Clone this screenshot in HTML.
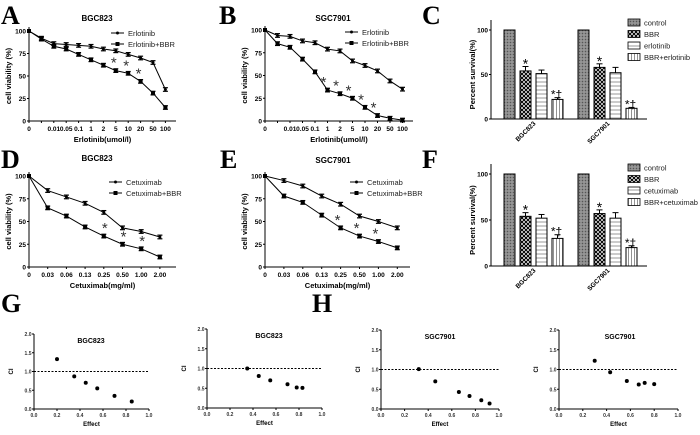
<!DOCTYPE html>
<html><head><meta charset="utf-8"><style>
html,body{margin:0;padding:0;background:#fff;}
svg{display:block;font-family:"Liberation Sans",Arial,sans-serif;}
</style></head><body>
<svg id="fig" width="700" height="435" viewBox="0 0 700 435">
<defs>
<pattern id="pCtrl" width="3" height="3" patternUnits="userSpaceOnUse"><rect width="3" height="3" fill="#888"/><rect width="1" height="1" fill="#555"/><rect x="1.5" y="1.5" width="1" height="1" fill="#bbb"/></pattern>
<pattern id="pBBR" width="4" height="4" patternUnits="userSpaceOnUse"><rect width="4" height="4" fill="#fff"/><path d="M0,0L4,4M4,0L0,4" stroke="#000" stroke-width="1.1"/></pattern>
<pattern id="pDrug" width="4" height="4" patternUnits="userSpaceOnUse"><rect width="4" height="4" fill="#fff"/><path d="M0,2H4" stroke="#999" stroke-width="1"/></pattern>
<pattern id="pComb" width="3" height="4" patternUnits="userSpaceOnUse"><rect width="3" height="4" fill="#fff"/><path d="M1.5,0V4" stroke="#777" stroke-width="0.8"/></pattern>
</defs>
<g font-family="Liberation Serif,serif" font-weight="bold" font-size="26" fill="#000">
<text x="1" y="24">A</text>
<text x="219" y="24">B</text>
<text x="422" y="24">C</text>
<text x="1" y="168">D</text>
<text x="220" y="168">E</text>
<text x="422" y="168">F</text>
<text x="1" y="312">G</text>
<text x="312" y="312">H</text>
</g>
</svg>
<script>
// ---- Line chart data ----
const catsErl = ["0","","0.01","0.05","0.1","1","2","5","10","20","50","100"];
const catsCet = ["0","0.03","0.06","0.13","0.25","0.50","1.00","2.00"];
const aErl = [100,92,86,85,84,83,80,78,74,70,65,35];
const aErlBBR = [100,91,83,80,74,68,62,56,53,44,31,15];
const bErl = [100,94,93,88,86,79,77,66,61,55,44,35];
const bErlBBR = [100,85,81,68,54,34,30,25,15,6,3,1];
const dCet = [100,84,77,70,60,43,39,33];
const dCetBBR = [100,65,56,44,34,25,20,11];
const eCet = [100,95,89,78,69,56,50,43];
const eCetBBR = [100,78,71,57,43,34,28,21];
const yTicksLine = [0,25,50,75,100];
// ---- Bar data ----
const barGroups = ["BGC823","SGC7901"];
const cVals = [[100,54,51,22],[100,58,52,12]];
const cErr = [[0,5,4,2],[0,4,6,1]];
const fVals = [[100,54,52,30],[100,57,52,20]];
const fErr = [[0,4,4,4],[0,4,6,2]];
const yTicksBar = [0,50,100];
// ---- CI scatter data ----
const g1Effect = [0.2,0.35,0.45,0.55,0.7,0.85];
const g1CI = [1.33,0.87,0.7,0.55,0.35,0.2];
const g2Effect = [0.35,0.45,0.55,0.7,0.78,0.83];
const g2CI = [1.0,0.81,0.7,0.6,0.52,0.51];
const h1Effect = [0.32,0.46,0.66,0.75,0.85,0.92];
const h1CI = [1.01,0.7,0.43,0.33,0.22,0.14];
const h2Effect = [0.3,0.43,0.57,0.67,0.72,0.8];
const h2CI = [1.22,0.93,0.71,0.62,0.66,0.63];
const ciTicks = [0,0.5,1,1.5,2];
const effTicks = [0,0.2,0.4,0.6,0.8,1];

const NS="http://www.w3.org/2000/svg";
const svg=document.getElementById('fig');
function el(tag,attrs,parent,txt){const e=document.createElementNS(NS,tag);for(const k in attrs)e.setAttribute(k,attrs[k]);if(txt!==undefined)e.textContent=txt;(parent||svg).appendChild(e);return e;}

function lineChart(o){
  const g=el('g',{});
  
  
  const X=i=>o.x0+i*o.dx;
  const Y=v=>o.y0-(v/100)*(o.y0-o.y100);
  el('line',{x1:o.x0,y1:o.y100-4,x2:o.x0,y2:o.y0,stroke:'#000','stroke-width':1},g);
  el('line',{x1:o.x0,y1:o.y0,x2:o.xEnd,y2:o.y0,stroke:'#000','stroke-width':1},g);
  yTicksLine.forEach(t=>{el('line',{x1:o.x0-2,y1:Y(t),x2:o.x0,y2:Y(t),stroke:'#000'},g);
    const tl=el('text',{x:o.x0-3,y:Y(t)+2.5,'font-size':6.5,'font-weight':'bold','text-anchor':'end'},g,t);
    });
  o.cats.forEach((c,i)=>{el('line',{x1:X(i),y1:o.y0,x2:X(i),y2:o.y0+2,stroke:'#000'},g);
    const tl=el('text',{x:X(i),y:o.y0+10,'font-size':6.5,'font-weight':'bold','text-anchor':'middle'},g,c);
    });
  [[o.s1,o.e1,'circle'],[o.s2,o.e2,'square']].forEach(([s,e,shape],si)=>{
    const p=el('polyline',{points:s.map((v,i)=>X(i)+','+Y(v)).join(' '),fill:'none',stroke:'#000','stroke-width':1},g);
    
    
    s.forEach((v,i)=>{
      if(i>0&&e){const er=e;el('line',{x1:X(i),y1:Y(v+er),x2:X(i),y2:Y(v-er),stroke:'#000','stroke-width':1.2},g);
        el('line',{x1:X(i)-2.5,y1:Y(v+er),x2:X(i)+2.5,y2:Y(v+er),stroke:'#000','stroke-width':1.2},g);
        el('line',{x1:X(i)-2.5,y1:Y(v-er),x2:X(i)+2.5,y2:Y(v-er),stroke:'#000','stroke-width':1.2},g);}
      let m;
      if(shape==='circle')m=el('circle',{cx:X(i),cy:Y(v),r:1.5,fill:'#000'},g);
      else m=el('rect',{x:X(i)-2,y:Y(v)-2,width:4,height:4,fill:'#000'},g);
      
    });
  });
  o.stars.forEach(i=>{const s=el('text',{x:X(i)+o.starDx,y:Y(o.s2[i])-3,'font-size':15,'text-anchor':'middle',fill:'#333'},g,'*');
    });
  const t=el('text',{x:o.titleX,y:o.titleY,'font-size':8,'font-weight':'bold','text-anchor':'middle'},g,o.title);
  
  const xl=el('text',{x:(o.x0+o.xEnd)/2,y:o.y0+21,'font-size':7.5,'font-weight':'bold','text-anchor':'middle'},g,o.xlabel);
  
  const yl=el('text',{x:0,y:0,'font-size':7.5,'font-weight':'bold','text-anchor':'middle',transform:`translate(${o.x0-18},${(o.y0+o.y100)/2}) rotate(-90)`},g,'cell viability (%)');
  
  o.legend.forEach((L,i)=>{const ly=o.legY+i*11;
    const lg=el('g',{},g);
    el('line',{x1:o.legX,y1:ly,x2:o.legX+13,y2:ly,stroke:'#000'},lg);
    if(i===0)el('circle',{cx:o.legX+6.5,cy:ly,r:1.5,fill:'#000'},lg);else el('rect',{x:o.legX+4.5,y:ly-2,width:4,height:4,fill:'#000'},lg);
    el('text',{x:o.legX+17,y:ly+3,'font-size':7.5,fill:'#222'},lg,L);});
}
lineChart({name:'chart-a',cats:catsErl,x0:29,dx:12.4,xEnd:176,y0:121,y100:31,s1:aErl,s2:aErlBBR,e1:2,e2:2,stars:[7,8,9],starDx:-2,title:'BGC823',titleX:97,titleY:21,xlabel:'Erlotinib(umol/l)',legend:['Erlotinib','Erlotinib+BBR'],legX:111,legY:33});
lineChart({name:'chart-b',cats:catsErl,x0:265,dx:12.5,xEnd:413,y0:121,y100:30,s1:bErl,s2:bErlBBR,e1:2,e2:2,stars:[5,6,7,8,9],starDx:-4,title:'SGC7901',titleX:333,titleY:21,xlabel:'Erlotinib(umol/l)',legend:['Erlotinib','Erlotinib+BBR'],legX:345,legY:32});
lineChart({name:'chart-d',cats:catsCet,x0:29,dx:18.7,xEnd:176,y0:267,y100:176,s1:dCet,s2:dCetBBR,e1:2,e2:2,stars:[4,5,6],starDx:1,title:'BGC823',titleX:97,titleY:161,xlabel:'Cetuximab(mg/ml)',legend:['Cetuximab','Cetuximab+BBR'],legX:109,legY:182});
lineChart({name:'chart-e',cats:catsCet,x0:265,dx:18.9,xEnd:410,y0:267,y100:176,s1:eCet,s2:eCetBBR,e1:2,e2:2,stars:[4,5,6],starDx:-3,title:'SGC7901',titleX:333,titleY:163,xlabel:'Cetuximab(mg/ml)',legend:['Cetuximab','Cetuximab+BBR'],legX:350,legY:182});

function barChart(o){
  const g=el('g',{});
  
  
  const Y=v=>o.y0-(v/100)*(o.y0-o.y100);
  el('line',{x1:o.x0,y1:o.y100-10,x2:o.x0,y2:o.y0,stroke:'#000'},g);
  el('line',{x1:o.x0,y1:o.y0,x2:o.x0+156,y2:o.y0,stroke:'#000'},g);
  yTicksBar.forEach(t=>{el('line',{x1:o.x0-2,y1:Y(t),x2:o.x0,y2:Y(t),stroke:'#000'},g);
    el('text',{x:o.x0-3,y:Y(t)+2.5,'font-size':6.5,'font-weight':'bold','text-anchor':'end'},g,t);});
  const fills=['url(#pCtrl)','url(#pBBR)','url(#pDrug)','url(#pComb)'];
  o.vals.forEach((grp,gi)=>{
    grp.forEach((v,bi)=>{const x=o.x0+13+gi*74+bi*16;const w=11;
      const r=el('rect',{x:x,y:Y(v),width:w,height:Y(0)-Y(v),fill:fills[bi],stroke:'#000','stroke-width':1},g);
      
      
      const e=o.err[gi][bi];
      if(e){el('line',{x1:x+w/2,y1:Y(v),x2:x+w/2,y2:Y(v+e),stroke:'#000'},g);
        el('line',{x1:x+w/2-3,y1:Y(v+e),x2:x+w/2+3,y2:Y(v+e),stroke:'#000'},g);}
      if(bi===1)el('text',{x:x+w/2,y:Y(v+e)+2,'font-size':14,'text-anchor':'middle'},g,'*');
      if(bi===3)el('text',{x:x+w/2-1,y:Y(v+e)+1,'font-size':12,'text-anchor':'middle'},g,'*†');
    });
    const lx=o.x0+45+gi*74,ly=o.y0+5;
    const t=el('text',{x:0,y:0,'font-size':6.5,'font-weight':'bold','text-anchor':'end',transform:`translate(${lx},${ly}) rotate(-45)`},g,barGroups[gi]);
    
  });
  const yl=el('text',{x:0,y:0,'font-size':7.5,'font-weight':'bold','text-anchor':'middle',transform:`translate(${o.x0-16},${(o.y0+o.y100)/2}) rotate(-90)`},g,'Percent survival(%)');
  
  o.legend.forEach((L,i)=>{const ly=o.legY+i*11.5;
    const lg=el('g',{},g);
    el('rect',{x:628,y:ly-4,width:12,height:7,fill:fills[i],stroke:'#000','stroke-width':0.8},lg);
    el('text',{x:644,y:ly+2.5,'font-size':7.5,fill:'#222'},lg,L);});
}
barChart({name:'chart-c',x0:491,y0:119,y100:30,vals:cVals,err:cErr,legend:['control','BBR','erlotinib','BBR+erlotinib'],legY:23});
barChart({name:'chart-f',x0:491,y0:266,y100:174,vals:fVals,err:fErr,legend:['control','BBR','cetuximab','BBR+cetuximab'],legY:168});

function ciChart(o){
  const g=el('g',{});
  
  
  const X=v=>o.x0+v*(o.x1-o.x0);
  const Y=v=>o.y0-(v/2)*(o.y0-o.y2);
  el('line',{x1:o.x0,y1:o.y2,x2:o.x0,y2:o.y0,stroke:'#000'},g);
  el('line',{x1:o.x0,y1:o.y0,x2:o.x1,y2:o.y0,stroke:'#000'},g);
  ciTicks.forEach(t=>{el('line',{x1:o.x0-2,y1:Y(t),x2:o.x0,y2:Y(t),stroke:'#000'},g);
    el('text',{x:o.x0-2.5,y:Y(t)+2,'font-size':5,'font-weight':'bold','text-anchor':'end',fill:'#333'},g,t.toFixed(1));});
  effTicks.forEach(t=>{el('line',{x1:X(t),y1:o.y0,x2:X(t),y2:o.y0+2,stroke:'#000'},g);
    el('text',{x:X(t),y:o.y0+8,'font-size':5,'font-weight':'bold','text-anchor':'middle',fill:'#333'},g,t.toFixed(1));});
  el('line',{x1:o.x0,y1:Y(1),x2:o.x1,y2:Y(1),stroke:'#000','stroke-width':1,'stroke-dasharray':'2,1.5'},g);
  o.ex.forEach((e,i)=>{const c=el('circle',{cx:X(e),cy:Y(o.ci[i]),r:2,fill:'#000'},g);
    });
  el('text',{x:o.tx,y:o.y2+9,'font-size':7,'font-weight':'bold','text-anchor':'middle'},g,o.title);
  el('text',{x:(o.x0+o.x1)/2,y:o.y0+17,'font-size':6,'font-weight':'bold','text-anchor':'middle'},g,'Effect');
  el('text',{x:0,y:0,'font-size':6,'font-weight':'bold','text-anchor':'middle',transform:`translate(${o.x0-21},${Y(1)}) rotate(-90)`},g,'CI');
}
ciChart({name:'chart-g1',x0:34,x1:149,y0:409,y2:334,ex:g1Effect,ci:g1CI,title:'BGC823',tx:91});
ciChart({name:'chart-g2',x0:207,x1:322,y0:408,y2:329,ex:g2Effect,ci:g2CI,title:'BGC823',tx:269});
ciChart({name:'chart-h1',x0:381,x1:499,y0:409,y2:330,ex:h1Effect,ci:h1CI,title:'SGC7901',tx:440});
ciChart({name:'chart-h2',x0:559,x1:678,y0:409,y2:330,ex:h2Effect,ci:h2CI,title:'SGC7901',tx:620});
</script>
</body></html>
